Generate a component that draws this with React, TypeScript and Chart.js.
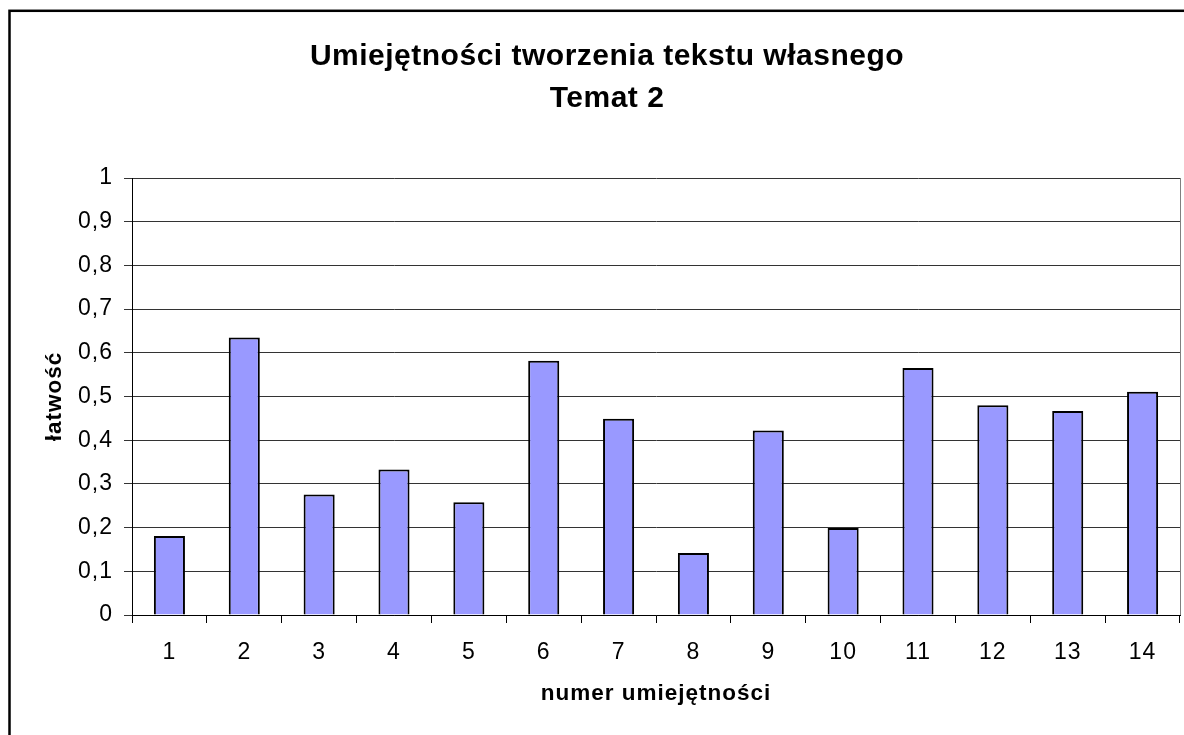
import React, { useEffect, useRef } from "react";
import { Chart, registerables } from "chart.js";

Chart.register(...registerables);

const categories = ["1", "2", "3", "4", "5", "6", "7", "8", "9", "10", "11", "12", "13", "14"];
const easiness = [0.181, 0.635, 0.276, 0.333, 0.258, 0.582, 0.449, 0.142, 0.422, 0.199, 0.565, 0.48, 0.467, 0.511];
const titleLines = ["Umiejętności tworzenia tekstu własnego", "Temat 2"];
const xAxisTitle = "numer umiejętności";
const yAxisTitle = "łatwość";

const FONT = "'Liberation Sans', Arial, sans-serif";
const CANVAS_W = 1184;
const CANVAS_H = 735;

// Chart frame, two-line heading, right plot edge and letter spacing for axis text
const decorPlugin = {
  id: "decor",
  beforeUpdate(chart: any) {
    chart.ctx.letterSpacing = "1px";
  },
  beforeDraw(chart: any) {
    const ctx = chart.ctx;
    ctx.letterSpacing = "1px";
    ctx.save();
    ctx.strokeStyle = "#000";
    ctx.lineWidth = 2.5;
    ctx.strokeRect(9.5, 10.8, 2000, 2000);
    ctx.restore();
  },
  afterDatasetsDraw(chart: any) {
    const { ctx, chartArea } = chart;
    ctx.save();
    ctx.strokeStyle = "#808080";
    ctx.lineWidth = 1;
    ctx.beginPath();
    ctx.moveTo(Math.round(chartArea.right) + 0.5, chartArea.top);
    ctx.lineTo(Math.round(chartArea.right) + 0.5, chartArea.bottom);
    ctx.stroke();
    ctx.restore();
  },
  afterDraw(chart: any) {
    const ctx = chart.ctx;
    ctx.save();
    ctx.letterSpacing = "0.5px";
    ctx.fillStyle = "#000";
    ctx.font = `bold 30px ${FONT}`;
    ctx.textAlign = "center";
    ctx.textBaseline = "alphabetic";
    titleLines.forEach((line, i) => {
      ctx.fillText(line, 607, 65 + i * 42);
    });
    ctx.restore();
  },
};

export default function App() {
  const ref = useRef<HTMLCanvasElement | null>(null);

  useEffect(() => {
    if (!ref.current) return;
    const chart = new Chart(ref.current, {
      type: "bar",
      data: {
        labels: categories,
        datasets: [
          {
            data: easiness,
            backgroundColor: "#9999FF",
            borderColor: "#000000",
            borderWidth: 2,
            categoryPercentage: 1,
            barPercentage: 0.415,
          },
        ],
      },
      options: {
        responsive: false,
        animation: false,
        layout: { padding: { left: 0, right: CANVAS_W - 1180, top: 178, bottom: 0 } },
        plugins: {
          legend: { display: false },
          tooltip: { enabled: false },
          title: { display: false },
        },
        scales: {
          x: {
            afterFit(scale: any) {
              scale.height = CANVAS_H - 615;
            },
            grid: { drawOnChartArea: false, drawTicks: true, tickLength: 8, color: "#000", offset: true },
            border: { display: true, color: "#000", width: 1 },
            ticks: { color: "#000", font: { family: FONT, size: 23 }, padding: 16, maxRotation: 0 },
            title: {
              display: true,
              text: xAxisTitle,
              color: "#000",
              font: { family: FONT, size: 22.5, weight: "bold" },
              padding: { top: 0, bottom: 28 },
            },
          },
          y: {
            min: 0,
            max: 1,
            afterFit(scale: any) {
              scale.width = 132;
            },
            grid: { color: "#333", lineWidth: 1, tickLength: 8, drawTicks: true },
            border: { display: true, color: "#000", width: 1 },
            ticks: {
              stepSize: 0.1,
              color: "#000",
              font: { family: FONT, size: 23 },
              padding: 11,
              callback: (v: any) => String(Math.round(Number(v) * 10) / 10).replace(".", ","),
            },
            title: {
              display: true,
              text: yAxisTitle,
              color: "#000",
              font: { family: FONT, size: 22.5, weight: "bold" },
              padding: { top: 41, bottom: 0 },
            },
          },
        },
      },
      plugins: [decorPlugin],
    });
    return () => chart.destroy();
  }, []);

  return (
    <div
      style={{
        position: "fixed",
        left: 0,
        top: 0,
        width: 1184,
        height: 735,
        overflow: "hidden",
        background: "#fff",
      }}
    >
      <canvas ref={ref} width={CANVAS_W} height={CANVAS_H} style={{ display: "block" }} />
    </div>
  );
}
